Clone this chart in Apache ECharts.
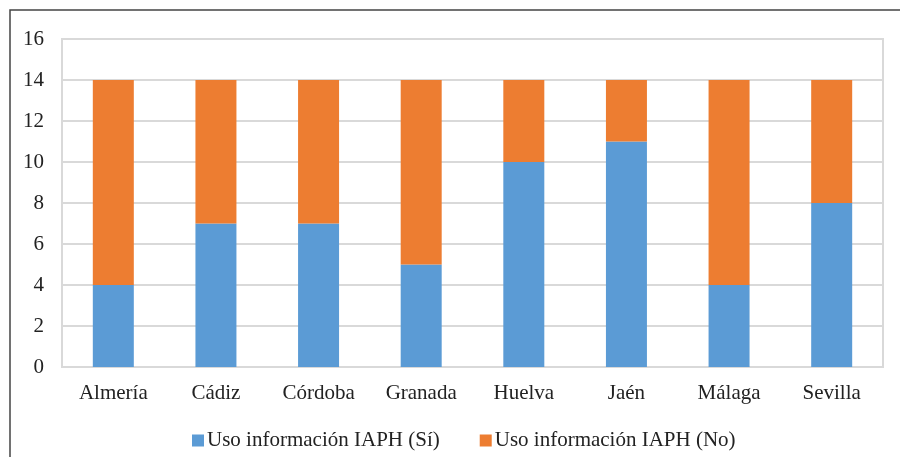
<!DOCTYPE html>
<html>
<head>
<meta charset="utf-8">
<script src="https://cdn.jsdelivr.net/npm/echarts@6/dist/echarts.min.js"></script>
<style>html,body{margin:0;padding:0;background:#fff}#c{width:900px;height:457px}</style>
</head>
<body>
<div id="c"></div>
<script>
const categories = ['Almería','Cádiz','Córdoba','Granada','Huelva','Jaén','Málaga','Sevilla'];
const usoSi = [4,7,7,5,10,11,4,8];
const usoNo = [10,7,7,9,4,3,10,6];
const seriesNames = ['Uso información IAPH (Sí)','Uso información IAPH (No)'];

const font = '"Liberation Serif", "Times New Roman", serif';
const chart = echarts.init(document.getElementById('c'), null, {renderer:'canvas'});
chart.setOption({
  animation:false,
  textStyle:{fontFamily:font},
  graphic:[{type:'rect',shape:{x:10,y:10,width:900,height:460},style:{fill:'none',stroke:'#444',lineWidth:1.5},silent:true}],
  grid:{left:62,right:17,top:39,bottom:90,show:true,borderColor:'#d9d9d9',borderWidth:2},
  legend:{left:187,top:425,itemWidth:12,itemHeight:12,itemGap:40,icon:'rect',
    textStyle:{fontFamily:font,fontSize:21,color:'#222',padding:[0,0,0,-2]},data:seriesNames},
  xAxis:{type:'category',data:categories,
    axisLine:{show:false},axisTick:{show:false},
    axisLabel:{fontFamily:font,fontSize:21,color:'#222',margin:16}},
  yAxis:{type:'value',min:0,max:16,interval:2,
    axisLine:{show:false},axisTick:{show:false},
    splitLine:{lineStyle:{color:'#d9d9d9',width:2}},
    axisLabel:{fontFamily:font,fontSize:21,color:'#222',margin:18}},
  series:[
    {name:seriesNames[0],type:'bar',stack:'t',data:usoSi,barWidth:41,itemStyle:{color:'#5b9bd5'}},
    {name:seriesNames[1],type:'bar',stack:'t',data:usoNo,barWidth:41,itemStyle:{color:'#ed7d31'}}
  ]
});
</script>
</body>
</html>
